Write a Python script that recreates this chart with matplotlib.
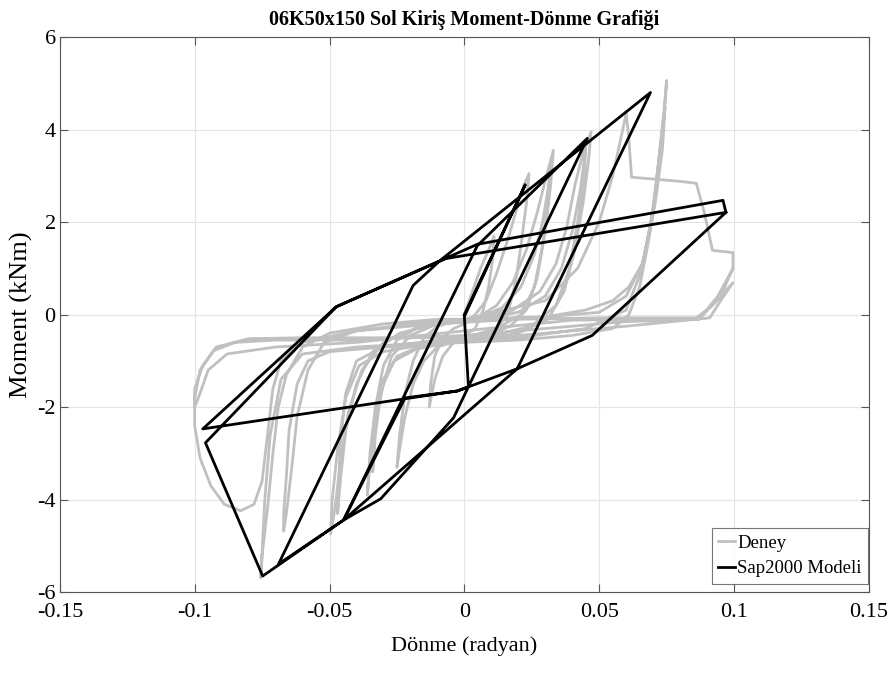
import matplotlib
matplotlib.use("Agg")
import matplotlib.pyplot as plt

# Deney (test) hysteresis
deney_c1_rot = [0.000, 0.003, 0.006, 0.009, 0.011, 0.0105, 0.009, 0.007, 0.004, 0.000, -0.004, -0.008,
                -0.011, -0.013, -0.0125, -0.011, -0.008, -0.004, 0.000]
deney_c1_mom = [0.00, 0.50, 1.00, 1.40, 1.70, 1.20, 0.60, 0.10, -0.30, -0.45, -0.60, -0.90,
                -1.40, -2.00, -1.50, -0.90, -0.50, -0.30, -0.20]
deney_c2_rot = [0.004, 0.008, 0.012, 0.016, 0.019, 0.022, 0.024, 0.023, 0.021, 0.019, 0.016, 0.012,
                0.006, -0.002, -0.010, -0.015, -0.019, -0.022, -0.024, -0.025, -0.024, -0.022,
                -0.019, -0.015, -0.010, -0.004]
deney_c2_mom = [0.00, 0.30, 0.90, 1.60, 2.20, 2.80, 3.05, 2.40, 1.50, 0.70, 0.00, -0.30,
                -0.45, -0.55, -0.70, -1.00, -1.50, -2.20, -2.90, -3.30, -2.60, -1.70,
                -1.00, -0.50, -0.25, -0.15]
deney_c3_rot = [0.004, 0.012, 0.018, 0.023, 0.027, 0.030, 0.033, 0.032, 0.030, 0.027, 0.023, 0.017,
                0.008, -0.005, -0.018, -0.026, -0.030, -0.033, -0.035, -0.036, -0.035, -0.033,
                -0.030, -0.025, -0.018, -0.008]
deney_c3_mom = [-0.10, 0.20, 0.70, 1.40, 2.20, 2.90, 3.55, 2.80, 1.80, 0.80, 0.10, -0.25,
                -0.45, -0.60, -0.75, -1.00, -1.50, -2.30, -3.20, -3.90, -3.00, -2.00,
                -1.10, -0.55, -0.30, -0.15]
deney_c3b_rot = [0.004, 0.014, 0.021, 0.026, 0.029, 0.031, 0.032, 0.031, 0.029, 0.026, 0.021, 0.012,
                 0.000, -0.015, -0.025, -0.030, -0.033, -0.034, -0.033, -0.031, -0.027, -0.020,
                 -0.010]
deney_c3b_mom = [-0.10, 0.15, 0.60, 1.30, 2.00, 2.70, 3.20, 2.40, 1.50, 0.60, 0.00, -0.30,
                 -0.50, -0.65, -0.90, -1.40, -2.20, -3.40, -2.60, -1.70, -0.90, -0.45,
                 -0.20]
deney_c4_rot = [0.005, 0.018, 0.028, 0.034, 0.038, 0.041, 0.044, 0.047, 0.046, 0.044, 0.041, 0.037,
                0.031, 0.020, 0.005, -0.015, -0.030, -0.039, -0.044, -0.047, -0.049, -0.0496,
                -0.048, -0.046, -0.043, -0.038, -0.030, -0.018, -0.005]
deney_c4_mom = [-0.10, 0.10, 0.50, 1.10, 1.90, 2.80, 3.50, 3.95, 3.30, 2.40, 1.40, 0.50,
                -0.10, -0.40, -0.55, -0.65, -0.80, -1.10, -1.80, -2.90, -4.00, -4.74,
                -4.20, -3.20, -2.10, -1.20, -0.60, -0.30, -0.15]
deney_c4b_rot = [0.005, 0.020, 0.030, 0.036, 0.040, 0.043, 0.045, 0.0445, 0.042, 0.039, 0.034, 0.025,
                 0.010, -0.010, -0.030, -0.040, -0.044, -0.046, -0.047, -0.046, -0.044, -0.040,
                 -0.034, -0.024, -0.010]
deney_c4b_mom = [-0.10, 0.05, 0.40, 1.00, 1.80, 2.70, 3.60, 3.00, 2.00, 1.00, 0.20, -0.25,
                 -0.45, -0.55, -0.70, -1.00, -1.70, -2.80, -4.30, -3.60, -2.50, -1.50,
                 -0.80, -0.40, -0.20]
deney_c5_rot = [0.010, 0.030, 0.045, 0.055, 0.061, 0.066, 0.069, 0.071, 0.073, 0.0744, 0.0735, 0.071,
                0.068, 0.065, 0.061, 0.055, 0.040, 0.020, 0.000, -0.030, -0.050, -0.058, -0.062,
                -0.065, -0.066, -0.067, -0.067, -0.066, -0.064, -0.062, -0.058, -0.052, -0.040,
                -0.020, 0.000]
deney_c5_mom = [-0.10, -0.05, 0.10, 0.30, 0.60, 1.10, 1.90, 2.80, 3.80, 4.48, 3.60, 2.50,
                1.50, 0.60, 0.00, -0.30, -0.45, -0.55, -0.60, -0.70, -0.80, -1.00, -1.50,
                -2.50, -3.50, -4.30, -4.68, -4.30, -3.30, -2.20, -1.20, -0.60, -0.35,
                -0.20, -0.10]
deney_c6_rot = [0.030, 0.050, 0.060, 0.066, 0.070, 0.072, 0.074, 0.075, 0.0745, 0.073, 0.070, 0.066,
                0.060, 0.045, 0.020, -0.010, -0.040, -0.060, -0.068, -0.072, -0.074, -0.0755,
                -0.075, -0.073, -0.071, -0.069, -0.066, -0.060, -0.050, -0.030, -0.010]
deney_c6_mom = [-0.05, 0.05, 0.40, 1.10, 2.20, 3.30, 4.40, 5.06, 4.60, 3.60, 2.30, 1.00,
                0.10, -0.30, -0.50, -0.60, -0.70, -0.85, -1.40, -2.60, -4.00, -5.69,
                -5.20, -4.20, -3.00, -2.00, -1.30, -0.70, -0.40, -0.20, -0.10]
deney_c7_rot = [0.000, 0.030, 0.042, 0.050, 0.055, 0.058, 0.060, 0.061, 0.062, 0.070, 0.080, 0.086,
                0.089, 0.092, 0.0996, 0.0996, 0.095, 0.087, 0.060, 0.030, 0.000, -0.040, -0.070,
                -0.085, -0.093, -0.098, -0.100, -0.100, -0.098, -0.094, -0.089, -0.083, -0.078,
                -0.075, -0.073, -0.071, -0.068, -0.060, -0.040, -0.010, 0.020]
deney_c7_mom = [-0.10, 0.30, 1.00, 2.00, 3.00, 3.80, 4.35, 3.80, 2.97, 2.93, 2.88, 2.84,
                2.20, 1.39, 1.34, 1.00, 0.40, -0.10, -0.15, -0.30, -0.45, -0.55, -0.55,
                -0.60, -0.78, -1.20, -1.80, -2.40, -3.10, -3.70, -4.10, -4.24, -4.10,
                -3.60, -2.60, -1.60, -1.00, -0.60, -0.35, -0.20, -0.10]
deney_c8_rot = [0.050, 0.086, 0.092, 0.0996, 0.095, 0.091, 0.060, 0.020, -0.020, -0.060, -0.080,
                -0.092, -0.097, -0.100, -0.100, -0.098, -0.095, -0.088, -0.070, -0.040, 0.000,
                0.040, 0.087, 0.094, 0.0996]
deney_c8_mom = [-0.07, -0.07, 0.20, 0.69, 0.30, -0.07, -0.25, -0.45, -0.50, -0.50, -0.52,
                -0.70, -1.10, -1.60, -2.00, -1.70, -1.20, -0.85, -0.70, -0.60, -0.35,
                -0.12, -0.10, 0.40, 1.00]

# Sap2000 model, vertex by vertex
model_rot = [0.0000, 0.0226, 0.0000, 0.0015, -0.0026, -0.0220, -0.0448, 0.0048, 0.0456,
             -0.0040, -0.0310, -0.0448, -0.0689, -0.0190, -0.0090, 0.0690, 0.0196, -0.0448,
             -0.0748, -0.0960, -0.0475, -0.0070, 0.0970, 0.0959, 0.0048, -0.0475, -0.0970,
             -0.0026, 0.0196, 0.0474, 0.0970]
model_mom = [0.00, 2.81, -0.04, -1.56, -1.65, -1.80, -4.44, 1.49, 3.81,
             -2.23, -3.98, -4.44, -5.39, 0.63, 1.17, 4.80, -1.17, -4.44,
             -5.65, -2.77, 0.17, 1.21, 2.21, 2.47, 1.52, 0.17, -2.47,
             -1.65, -1.17, -0.45, 2.21]

deney_rot = (deney_c1_rot + deney_c2_rot + deney_c3_rot + deney_c3b_rot + deney_c4_rot
             + deney_c4b_rot + deney_c5_rot + deney_c6_rot + deney_c7_rot + deney_c8_rot)
deney_mom = (deney_c1_mom + deney_c2_mom + deney_c3_mom + deney_c3b_mom + deney_c4_mom
             + deney_c4b_mom + deney_c5_mom + deney_c6_mom + deney_c7_mom + deney_c8_mom)

plt.rcParams["font.family"] = ["Liberation Serif", "DejaVu Serif"]
plt.rcParams["axes.unicode_minus"] = False

fig = plt.figure(figsize=(8.93, 6.73), dpi=100)
ax = fig.add_axes([0.067, 0.120, 0.906, 0.825])

ax.plot(deney_rot, deney_mom, color="#c0c0c0", lw=2.0, label="Deney")
ax.plot(model_rot, model_mom, color="black", lw=2.0, label="Sap2000 Modeli")

ax.set_xlim(-0.15, 0.15)
ax.set_ylim(-6, 6)
ax.set_xticks([-0.15, -0.1, -0.05, 0, 0.05, 0.1, 0.15])
ax.set_xticklabels(["-0.15", "-0.1", "-0.05", "0", "0.05", "0.1", "0.15"])
ax.set_yticks([-6, -4, -2, 0, 2, 4, 6])
ax.tick_params(direction="in", top=True, right=True, labelsize=16, length=6,
               color="#555555")
ax.tick_params(axis="x", pad=8)
ax.tick_params(axis="y", pad=3)
ax.grid(True, color="#e4e4e4", lw=0.8)
for s in ax.spines.values():
    s.set_color("#555555")

ax.set_xlabel("Dönme (radyan)", fontsize=16, labelpad=10)
ax.set_ylabel("Moment (kNm)", fontsize=19, labelpad=3)
ax.set_title("06K50x150 Sol Kiriş Moment-Dönme Grafiği", fontsize=14.5,
             fontweight="bold", pad=9)

leg = ax.legend(loc="lower right", bbox_to_anchor=(0.999, 0.015), fontsize=13.5,
                handlelength=0.9, handletextpad=0.1, borderpad=0.35,
                labelspacing=0.45, fancybox=False, borderaxespad=0.0)
leg.get_frame().set_edgecolor("#555555")
leg.get_frame().set_linewidth(0.8)

fig.savefig("out.png", dpi=100)
